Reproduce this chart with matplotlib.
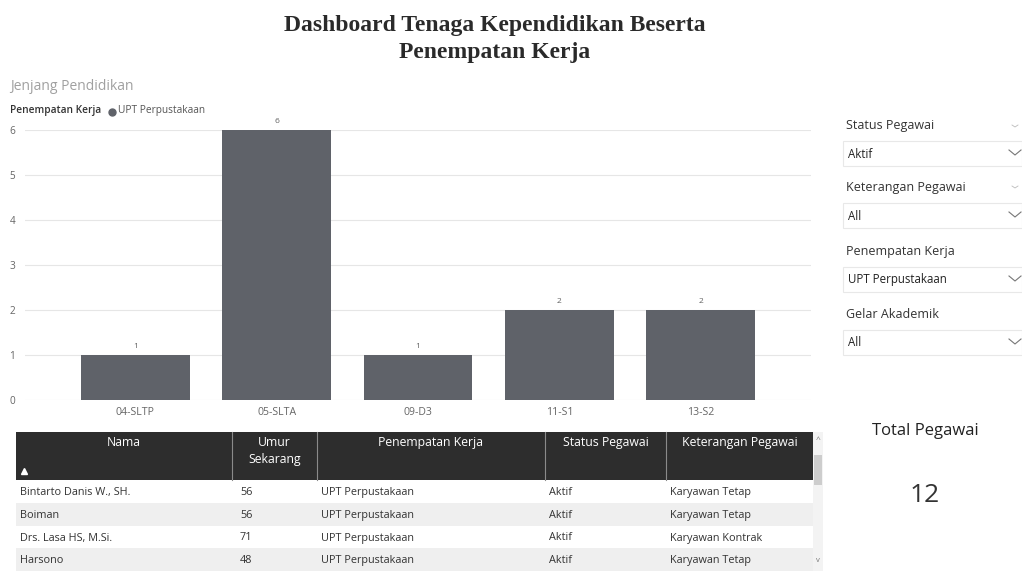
import matplotlib
matplotlib.use("Agg")
import matplotlib.pyplot as plt
from matplotlib.patches import Rectangle

plt.rcParams['font.family'] = ['Open Sans', 'DejaVu Sans']

# data
jenjang = ['04-SLTP', '05-SLTA', '09-D3', '11-S1', '13-S2']
jumlah = [1, 6, 1, 2, 2]
total_pegawai = 12

nama = ['Bintarto Danis W., SH.', 'Boiman', 'Drs. Lasa HS, M.Si.', 'Harsono']
umur = [56, 56, 71, 48]
penempatan = ['UPT Perpustakaan'] * 4
status = ['Aktif'] * 4
keterangan = ['Karyawan Tetap', 'Karyawan Tetap', 'Karyawan Kontrak', 'Karyawan Tetap']

slicers = [('Status Pegawai', 'Aktif'), ('Keterangan Pegawai', 'All'),
           ('Penempatan Kerja', 'UPT Perpustakaan'), ('Gelar Akademik', 'All')]

W, H = 1022, 572
fig = plt.figure(figsize=(W / 100, H / 100), dpi=100)

# overlay in pixel coords for dashboard furniture
bg = fig.add_axes([0, 0, 1, 1])
bg.set_xlim(0, W)
bg.set_ylim(H, 0)
bg.axis('off')

bg.text(495, 39, 'Dashboard Tenaga Kependidikan Beserta\nPenempatan Kerja',
        ha='center', va='center', fontsize=17, fontweight='bold',
        family='Liberation Serif', color='#2a2a2a', linespacing=1.32)

bg.text(10, 86, 'Jenjang Pendidikan', fontsize=10, color='#a0a0a0', va='center')
bg.text(10, 111, 'Penempatan Kerja', fontsize=7.3, color='#333333', va='center',
        fontweight='semibold')
bg.plot([112], [111.5], 'o', ms=5, color='#5f6269')
bg.text(118, 111, 'UPT Perpustakaan', fontsize=7.3, color='#555555', va='center')

# bar chart
ax = fig.add_axes([25 / W, 1 - 400 / H, (811 - 25) / W, 270 / H])
x = range(len(jenjang))
bars = ax.bar(x, jumlah, width=0.77, color='#5f6269', zorder=3)
for b, v in zip(bars, jumlah):
    ax.text(b.get_x() + b.get_width() / 2, v + 0.12, str(v), ha='center',
            va='bottom', fontsize=6, color='#606060')
ax.set_xlim(-0.78, 4.78)
ax.set_ylim(0, 6)
ax.set_xticks(list(x))
ax.set_xticklabels(jenjang, fontsize=7.6, color='#666666')
ax.set_yticks(range(7))
ax.set_yticklabels([str(i) for i in range(7)], fontsize=7.2, color='#666666')
ax.tick_params(length=0, axis='y', pad=7)
ax.tick_params(length=0, axis='x', pad=5)
ax.grid(axis='y', color='#e6e6e6', lw=0.8, zorder=0)
for s in ax.spines.values():
    s.set_visible(False)
ax.set_facecolor('none')

# slicers on the right
slicer_y = [126, 187, 252, 315]
box_y = [141, 203, 267, 330]
for (lbl, val), ly, by in zip(slicers, slicer_y, box_y):
    bg.text(846, ly, lbl, fontsize=9, color='#333333', va='center')
    bg.add_patch(Rectangle((843, by), 179, 25, fc='white', ec='#e8e8e8', lw=0.8))
    bg.text(848, by + 13, val, fontsize=8.3, color='#222222', va='center')
    bg.plot([1009, 1015, 1021], [by + 9, by + 14, by + 9], color='#777777', lw=0.8)
    if ly < 200:
        bg.plot([1012, 1015, 1018], [ly - 1, ly + 1, ly - 1], color='#bbbbbb', lw=0.6)

# card
bg.text(925, 431, 'Total Pegawai', fontsize=12, color='#222222', ha='center', va='center')
bg.text(925, 496, str(total_pegawai), fontsize=19, color='#333333', ha='center', va='center')

# table
col_x = [16, 232, 317, 545, 666, 813]
text_x = [20, 240, 321, 549, 670]
headers = ['Nama', 'Umur\nSekarang', 'Penempatan Kerja', 'Status Pegawai', 'Keterangan Pegawai']
bg.add_patch(Rectangle((16, 432), 797, 48, fc='#2d2d2d', ec='none'))
for cx in col_x[1:-1]:
    bg.plot([cx, cx], [432, 480], color='#8a8a8a', lw=0.8)
for i, hd in enumerate(headers):
    bg.text((col_x[i] + col_x[i + 1]) / 2, 436, hd, ha='center', va='top',
            fontsize=8.8, color='white', linespacing=1.35)
bg.plot([24], [471], marker='^', ms=4, color='white')

rows = list(zip(nama, umur, penempatan, status, keterangan))
row_h = 22.8
for r, row in enumerate(rows):
    y0 = 480 + r * row_h
    bg.add_patch(Rectangle((16, y0), 797, row_h,
                           fc='white' if r % 2 == 0 else '#efefef', ec='none'))
    for c, val in enumerate(row):
        bg.text(text_x[c], y0 + row_h / 2 + 1, str(val), fontsize=7.8,
                color='#333333', va='center')

# scrollbar
bg.add_patch(Rectangle((813, 432), 10, 139, fc='#f3f3f3', ec='none'))
bg.add_patch(Rectangle((814, 455), 8, 30, fc='#cdcdcd', ec='none'))
bg.text(818, 440, '^', fontsize=6, color='#777777', ha='center', va='center')
bg.text(818, 561, 'v', fontsize=5.5, color='#777777', ha='center', va='center')

fig.savefig('out.png', dpi=100, facecolor='white')
